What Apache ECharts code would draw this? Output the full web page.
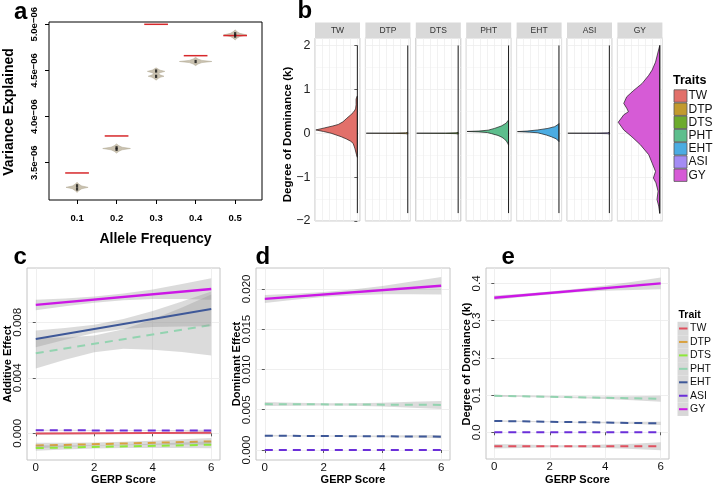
<!DOCTYPE html>
<html><head><meta charset="utf-8">
<script src="https://cdn.jsdelivr.net/npm/echarts@6/dist/echarts.min.js"></script>
<style>html,body{margin:0;padding:0;background:#fff}#c{width:718px;height:486px}</style>
</head><body><div id="c"></div><script>
const FONT = '"Liberation Sans", Arial, Helvetica, sans-serif';

// ---------- Panel a : variance explained (units of 1e-06) ----------
const alleleFreq = [0.1, 0.2, 0.3, 0.4, 0.5];
const expectedVar = [3.389, 3.790, 5.000, 4.660, 4.878];
const aYTicks = [3.5, 4.0, 4.5, 5.0];
// violin profiles: [value, half-width in allele-frequency units]
const violin01 = [[3.178,0],[3.200,0.005],[3.218,0.012],[3.233,0.028],[3.248,0.012],[3.266,0.005],[3.288,0]];
const violin02 = [[3.604,0],[3.624,0.006],[3.640,0.014],[3.654,0.035],[3.668,0.014],[3.684,0.006],[3.704,0]];
const violin03 = [[4.395,0],[4.415,0.006],[4.428,0.012],[4.437,0.020],[4.452,0.010],[4.462,0.006],[4.475,0.010],[4.490,0.022],[4.503,0.010],[4.515,0.005],[4.528,0]];
const violin04 = [[4.552,0],[4.570,0.006],[4.585,0.016],[4.597,0.041],[4.609,0.016],[4.624,0.006],[4.642,0]];
const violin05 = [[4.830,0],[4.850,0.005],[4.868,0.012],[4.885,0.029],[4.902,0.012],[4.920,0.005],[4.940,0]];
const violinsA = [violin01, violin02, violin03, violin04, violin05];
const innerDots = [[0.1,3.215],[0.1,3.250],[0.2,3.645],[0.2,3.662],[0.3,4.436],[0.3,4.494],[0.4,4.597],[0.5,4.872],[0.5,4.898]];

// ---------- Panel b : degree of dominance densities ----------
const traits = ['TW','DTP','DTS','PHT','EHT','ASI','GY'];
const traitFill = ['#E2706A','#C29A2E','#6CAB2C','#5DBE8D','#4BACE2','#A48CF4','#D65BD6'];
const bYTicks = [-2, -1, 0, 1, 2];
const kDataRange = [2.0, -1.82];
// [k, density] pairs along outline
const densTW  = [[0.85,0],[0.78,0.03],[0.65,0.03],[0.57,0.04],[0.53,0.055],[0.47,0.10],[0.415,0.16],[0.34,0.25],[0.26,0.34],[0.20,0.45],[0.165,0.58],[0.12,0.78],[0.075,0.98],[0.04,0.80],[0.0,0.62],[-0.04,0.50],[-0.08,0.38],[-0.13,0.26],[-0.18,0.16],[-0.23,0.10],[-0.34,0.06],[-0.49,0.02],[-0.55,0]];
const densDTP = [[0.02,0],[0.01,0.05],[0.004,0.3],[0.0,0.98],[-0.004,0.3],[-0.01,0.05],[-0.02,0]];
const densDTS = [[0.02,0],[0.01,0.05],[0.004,0.3],[0.0,0.98],[-0.004,0.3],[-0.01,0.05],[-0.02,0]];
const densPHT = [[0.30,0],[0.28,0.02],[0.23,0.055],[0.165,0.17],[0.11,0.33],[0.07,0.48],[0.05,0.70],[0.04,0.98],[0.03,0.70],[0.015,0.50],[-0.01,0.40],[-0.05,0.25],[-0.09,0.16],[-0.13,0.10],[-0.18,0.05],[-0.23,0.02],[-0.27,0]];
const densEHT = [[0.22,0],[0.20,0.02],[0.15,0.10],[0.11,0.26],[0.075,0.50],[0.05,0.75],[0.037,0.98],[0.025,0.70],[0.01,0.50],[-0.01,0.42],[-0.04,0.30],[-0.08,0.18],[-0.13,0.06],[-0.19,0]];
const densASI = [[0.02,0],[0.01,0.05],[0.004,0.3],[0.0,0.98],[-0.004,0.3],[-0.01,0.05],[-0.02,0]];
const densGY  = [[2.0,0],[1.85,0.04],[1.62,0.10],[1.44,0.18],[1.32,0.26],[1.13,0.42],[0.98,0.61],[0.83,0.78],[0.68,0.85],[0.57,0.78],[0.49,0.74],[0.42,0.85],[0.25,0.98],[0.075,0.85],[-0.08,0.66],[-0.26,0.46],[-0.49,0.26],[-0.68,0.18],[-0.87,0.10],[-1.02,0.15],[-1.13,0.09],[-1.32,0.04],[-1.51,0.065],[-1.66,0.025],[-1.83,0]];
const densities = [densTW, densDTP, densDTS, densPHT, densEHT, densASI, densGY];

// ---------- Panels c-e : GERP regressions ----------
const lineColor = ['#E0505F','#D9A13F','#8EE83A','#93D3B0','#3E5898','#6B2FD9','#CC17E6'];
const gerpX = [0, 1, 2, 3, 4, 5, 6];
const gerpTicks = [0, 2, 4, 6];
// additive effect (c)
const cStart = [-0.00002, -0.00088, -0.00106, 0.00577, 0.00680, 0.00022, 0.00925];
const cEnd   = [ 0.00004, -0.00058, -0.00082, 0.00780, 0.00896, 0.00020, 0.01040];
const cDashed = [false, true, true, true, false, true, false];
const cLo = [
  [-0.00010,-0.00008,-0.00006,-0.00005,-0.00005,-0.00006,-0.00008],
  [-0.00108,-0.00098,-0.00090,-0.00085,-0.00083,-0.00083,-0.00083],
  [-0.00126,-0.00117,-0.00110,-0.00106,-0.00105,-0.00106,-0.00107],
  [0.00467,0.00531,0.00585,0.00609,0.00602,0.00586,0.00560],
  [0.00620,0.00674,0.00722,0.00752,0.00766,0.00770,0.00771],
  [0.00018,0.00019,0.00019,0.00019,0.00018,0.00017,0.00015],
  [0.00887,0.00916,0.00941,0.00959,0.00968,0.00967,0.00962]];
const cHi = [
  [0.00006,0.00005,0.00005,0.00006,0.00007,0.00010,0.00016],
  [-0.00068,-0.00068,-0.00066,-0.00061,-0.00053,-0.00043,-0.00033],
  [-0.00086,-0.00087,-0.00086,-0.00082,-0.00075,-0.00066,-0.00057],
  [0.00687,0.00691,0.00705,0.00749,0.00822,0.00906,0.01000],
  [0.00740,0.00758,0.00782,0.00824,0.00882,0.00950,0.01021],
  [0.00026,0.00025,0.00024,0.00024,0.00024,0.00024,0.00025],
  [0.00963,0.00972,0.00985,0.01007,0.01036,0.01075,0.01118]];
const cYTicks = [0, 0.004, 0.008];
// dominant effect (d)
const dStart = [null, null, null, 0.00570, 0.00178, 0.00000, 0.01876];
const dEnd   = [null, null, null, 0.00560, 0.00166, 0.00000, 0.02040];
const dDashed = [true, true, true, true, true, true, false];
const dLo = [null, null, null,
  [0.00545,0.00550,0.00553,0.00549,0.00539,0.00526,0.00510],
  [0.00168,0.00169,0.00168,0.00165,0.00160,0.00154,0.00146],
  null,
  [0.01826,0.01867,0.01901,0.01922,0.01935,0.01933,0.01932]];
const dHi = [null, null, null,
  [0.00595,0.00586,0.00581,0.00581,0.00587,0.00598,0.00610],
  [0.00188,0.00183,0.00180,0.00179,0.00180,0.00182,0.00186],
  null,
  [0.01926,0.01939,0.01961,0.01994,0.02035,0.02093,0.02148]];
const dYTicks = [0, 0.005, 0.010, 0.015, 0.020];
// degree of dominance (e)
const eStart = [-0.0376, null, null, 0.0980, 0.0304, 0.0000, 0.3616];
const eEnd   = [-0.0376, null, null, 0.0900, 0.0240, 0.0000, 0.4000];
const eDashed = [true, true, true, true, true, true, false];
const eLo = [
  [-0.0436,-0.0421,-0.0401,-0.0406,-0.0421,-0.0446,-0.0481],
  null, null,
  [0.0950,0.0945,0.0933,0.0916,0.0892,0.0858,0.0820],
  [0.0284,0.0278,0.0271,0.0258,0.0241,0.0221,0.0198],
  null,
  [0.3556,0.3635,0.3704,0.3760,0.3802,0.3826,0.3840]];
const eHi = [
  [-0.0316,-0.0331,-0.0351,-0.0346,-0.0331,-0.0306,-0.0271],
  null, null,
  [0.1010,0.0989,0.0973,0.0964,0.0962,0.0968,0.0980],
  [0.0324,0.0308,0.0295,0.0286,0.0281,0.0281,0.0282],
  null,
  [0.3676,0.3725,0.3784,0.3856,0.3942,0.4046,0.4160]];
const eYTicks = [0, 0.1, 0.2, 0.3, 0.4];

// ---------- layout ----------
const bLeft = i => 315 + i * 50.4;
const grids = [
  {left:49, top:22, width:213, height:178, show:true, borderColor:'#000', borderWidth:1, backgroundColor:'#fff'}
];
for (let i = 0; i < 7; i++) grids.push({left:bLeft(i), top:38, width:45, height:183, show:true, borderColor:'#c4c4c4', borderWidth:1, backgroundColor:'#fff'});
grids.push({left:27, top:268, width:193, height:192, show:true, borderColor:'#c4c4c4', borderWidth:1, backgroundColor:'#fff'});
grids.push({left:256, top:268, width:194, height:192, show:true, borderColor:'#c4c4c4', borderWidth:1, backgroundColor:'#fff'});
grids.push({left:486, top:268, width:183, height:191, show:true, borderColor:'#c4c4c4', borderWidth:1, backgroundColor:'#fff'});

const xAxes = [], yAxes = [];
// a
xAxes.push({type:'value', gridIndex:0, min:0.029, max:0.568, axisLine:{show:false},
  axisTick:{show:true, customValues:alleleFreq, length:4, lineStyle:{color:'#000', width:1}},
  axisLabel:{customValues:alleleFreq, formatter:v=>v.toFixed(1), fontFamily:FONT, fontWeight:'bold', fontSize:9.5, color:'#000', margin:13},
  splitLine:{show:false}});
yAxes.push({type:'value', gridIndex:0, min:3.096, max:5.025, axisLine:{show:false},
  axisTick:{show:true, customValues:aYTicks, length:4, lineStyle:{color:'#000', width:1}},
  axisLabel:{customValues:aYTicks, rotate:90, formatter:v=>v.toFixed(1)+'e\u221206', fontFamily:FONT, fontWeight:'bold', fontSize:9.5, color:'#000', margin:10},
  splitLine:{show:false}});
// b
for (let i = 0; i < 7; i++) {
  xAxes.push({type:'value', gridIndex:1+i, min:-1, max:0.0625, interval:1/6, axisLine:{show:false}, axisTick:{show:false}, axisLabel:{show:false},
    splitLine:{show:true, lineStyle:{color:'#ececec', width:0.7}}});
  yAxes.push({type:'value', gridIndex:1+i, min:-2, max:2.17, interval:1, axisLine:{show:false},
    axisTick:{show:i===0, length:3, lineStyle:{color:'#333', width:0.8}},
    axisLabel:{show:i===0, fontFamily:FONT, fontSize:12.5, color:'#222', margin:4.5, formatter:v=>v<0?'\u2212'+Math.abs(v):String(v)},
    splitLine:{show:true, lineStyle:{color:'#ebebeb', width:0.7}},
    minorTick:{show:false, splitNumber:2}, minorSplitLine:{show:true, lineStyle:{color:'#f3f3f3', width:0.6}}});
}
// c, d, e
function gerpXAxis(gi) {
  return {type:'value', gridIndex:gi, min:-0.3, max:6.3, axisLine:{show:false},
    axisTick:{show:true, customValues:gerpTicks, length:3, lineStyle:{color:'#333', width:0.8}},
    axisLabel:{customValues:gerpTicks, fontFamily:FONT, fontSize:11.5, color:'#111', margin:2},
    splitLine:{show:true, lineStyle:{color:'#ebebeb', width:0.8}}};
}
function gerpYAxis(gi, min, max, ticks, dec) {
  return {type:'value', gridIndex:gi, min, max, axisLine:{show:false},
    axisTick:{show:true, customValues:ticks, length:3, lineStyle:{color:'#333', width:0.8}},
    axisLabel:{customValues:ticks, rotate:90, formatter:v=>v.toFixed(dec), fontFamily:FONT, fontSize:11.5, color:'#111', margin:3},
    splitLine:{show:true, lineStyle:{color:'#ebebeb', width:0.8}}};
}
xAxes.push(gerpXAxis(8)); yAxes.push(gerpYAxis(8, -0.00192, 0.01191, cYTicks, 3));
xAxes.push(gerpXAxis(9)); yAxes.push(gerpYAxis(9, -0.00124, 0.0226, dYTicks, 3));
xAxes.push(gerpXAxis(10)); yAxes.push(gerpYAxis(10, -0.0718, 0.4414, eYTicks, 1));

const series = [];
// a: violins
series.push({type:'custom', xAxisIndex:0, yAxisIndex:0, z:2, silent:true, clip:true,
  data: alleleFreq.map((f,i)=>[f, expectedVar[i]]),
  renderItem:(p, api)=>{
    const i = p.dataIndex, f = alleleFreq[i], prof = violinsA[i];
    const pts = prof.map(q=>api.coord([f+q[1], q[0]])).concat(prof.slice().reverse().map(q=>api.coord([f-q[1], q[0]])));
    return {type:'polygon', shape:{points:pts}, style:{fill:'#c9c1af', stroke:'#aea691', lineWidth:0.5}};
  }});
// a: expected (red) lines
series.push({type:'custom', xAxisIndex:0, yAxisIndex:0, z:3, silent:true,
  data: alleleFreq.map((f,i)=>[f, expectedVar[i]]),
  renderItem:(p, api)=>{
    const f = api.value(0), v = api.value(1);
    const a = api.coord([f-0.03, v]), b = api.coord([f+0.03, v]);
    return {type:'line', shape:{x1:a[0], y1:a[1], x2:b[0], y2:b[1]}, style:{stroke:'#D7282B', lineWidth:1.5}};
  }});
series.push({type:'scatter', xAxisIndex:0, yAxisIndex:0, z:4, silent:true, data:innerDots, symbol:'rect', symbolSize:[2.2,3.2], itemStyle:{color:'#111'}});

// b: densities
for (let i = 0; i < 7; i++) {
  const dens = densities[i];
  series.push({type:'custom', xAxisIndex:1+i, yAxisIndex:1+i, z:2, silent:true, clip:true,
    data: dens.map(q=>[-q[1], q[0]]),
    renderItem:(p, api)=>{
      if (p.dataIndex !== 0) return null;
      const pts = dens.map(q=>api.coord([-q[1], q[0]]));
      return {type:'polygon', shape:{points:pts}, style:{fill:traitFill[i], stroke:'#1a1a1a', lineWidth:0.7}};
    }});
  series.push({type:'line', xAxisIndex:1+i, yAxisIndex:1+i, z:3, silent:true, symbol:'none',
    data:[[0, kDataRange[0]], [0, kDataRange[1]]], lineStyle:{color:'#1a1a1a', width:1}});
}

// c-e regressions
function addRegression(axisIdx, start, end, lo, hi, dashed) {
  for (let i = 0; i < 7; i++) {
    if (start[i] === null) continue;
    if (lo[i]) {
      const l = lo[i], h = hi[i];
      const ring = gerpX.map((x,j)=>[x, l[j]]).concat(gerpX.slice().reverse().map((x,j)=>[x, h[gerpX.length-1-j]]));
      series.push({type:'custom', xAxisIndex:axisIdx, yAxisIndex:axisIdx, z:2+2*i, silent:true, clip:true,
        data: ring,
        renderItem:(p, api)=>{
          if (p.dataIndex !== 0) return null;
          return {type:'polygon', shape:{points:ring.map(q=>api.coord(q))}, style:{fill:'rgba(153,153,153,0.35)'}};
        }});
    }
    series.push({type:'line', xAxisIndex:axisIdx, yAxisIndex:axisIdx, z:3+2*i, silent:true, symbol:'none',
      data:[[gerpX[0], start[i]], [gerpX[gerpX.length-1], end[i]]],
      lineStyle:{color:lineColor[i], width: i===6 ? 2.4 : 2, type: dashed[i] ? [8,6] : 'solid', cap:'butt'}});
  }
}
addRegression(8, cStart, cEnd, cLo, cHi, cDashed);
addRegression(9, dStart, dEnd, dLo, dHi, dDashed);
addRegression(10, eStart, eEnd, eLo, eHi, eDashed);

// ---------- text / legends ----------
function txt(x, y, s, font, opts) {
  opts = opts || {};
  const align = opts.align || 'center', va = opts.va || 'middle';
  return {type:'text', x, y, rotation: opts.rot || 0, z:100, silent:true,
    style:{text:s, font, fill: opts.fill || '#000', align, textAlign:align, verticalAlign:va, textVerticalAlign:va}};
}
const B = sz => 'bold ' + sz + 'px ' + FONT;
const R = sz => sz + 'px ' + FONT;
const g = [];
g.push(txt(14, 12.6, 'a', B(24), {align:'left'}));
g.push(txt(297.5, 11.6, 'b', B(24), {align:'left'}));
g.push(txt(13.5, 257.6, 'c', B(24), {align:'left'}));
g.push(txt(255.5, 257.6, 'd', B(24), {align:'left'}));
g.push(txt(501.5, 257.6, 'e', B(24), {align:'left'}));
g.push(txt(9.5, 112, 'Variance Explained', B(14), {rot:Math.PI/2}));
g.push(txt(155.5, 239, 'Allele Frequency', B(14)));
g.push(txt(288, 134.5, 'Degree of Dominance (k)', B(11.5), {rot:Math.PI/2}));
g.push(txt(7.5, 364, 'Additive Effect', B(11), {rot:Math.PI/2}));
g.push(txt(236.5, 364, 'Dominant Effect', B(11), {rot:Math.PI/2}));
g.push(txt(466.5, 364, 'Degree of Domiance (k)', B(11), {rot:Math.PI/2}));
g.push(txt(123.5, 479.5, 'GERP Score', B(11)));
g.push(txt(353, 479.5, 'GERP Score', B(11)));
g.push(txt(577.5, 479.5, 'GERP Score', B(11)));
// facet strips
traits.forEach((t, i) => {
  g.push({type:'rect', z:50, silent:true, shape:{x:bLeft(i), y:22.5, width:45, height:15.5}, style:{fill:'#d9d9d9'}});
  g.push(txt(bLeft(i)+22.5, 30.3, t, R(8.5), {fill:'#333'}));
});
// legend b
g.push(txt(673, 81, 'Traits', B(12.5), {align:'left'}));
traits.forEach((t, i) => {
  const cy = 96 + i * 13.2;
  g.push({type:'rect', z:60, silent:true, shape:{x:674, y:cy-6.2, width:13, height:12.4}, style:{fill:traitFill[i], stroke:'#555', lineWidth:0.8}});
  g.push(txt(688.5, cy, t, R(12), {align:'left', fill:'#111'}));
});
// legend e
g.push(txt(678.5, 315, 'Trait', B(10.5), {align:'left'}));
traits.forEach((t, i) => {
  const cy = 328.5 + i * 13.45;
  g.push({type:'rect', z:60, silent:true, shape:{x:677.5, y:cy-6.7, width:11, height:13.45}, style:{fill:'#d8d8d8'}});
  g.push({type:'line', z:61, silent:true, shape:{x1:679, y1:cy, x2:687.5, y2:cy}, style:{stroke:lineColor[i], lineWidth:2}});
  g.push(txt(690, cy, t, R(10.5), {align:'left', fill:'#111'}));
});

const chart = echarts.init(document.getElementById('c'), null, {renderer:'canvas', width:718, height:486});
chart.setOption({
  animation:false,
  backgroundColor:'#fff',
  textStyle:{fontFamily:FONT},
  grid:grids, xAxis:xAxes, yAxis:yAxes, series,
  graphic:{elements:g}
});
</script></body></html>
